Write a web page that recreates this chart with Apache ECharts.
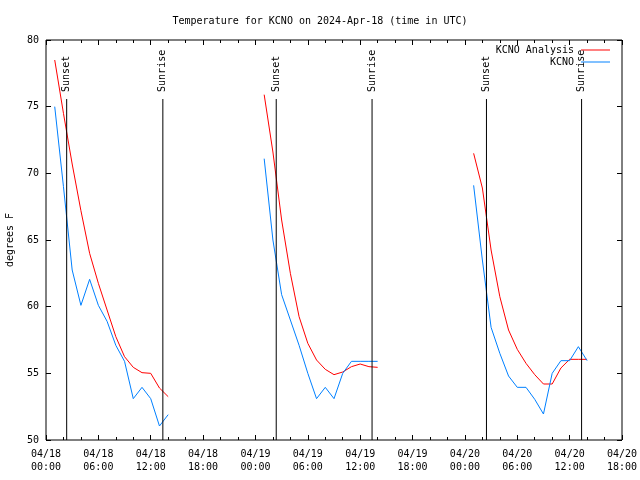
<!DOCTYPE html>
<html><head><meta charset="utf-8">
<script src="https://cdn.jsdelivr.net/npm/echarts@6/dist/echarts.min.js"></script>
<style>html,body{margin:0;padding:0;background:#fff}#c{width:640px;height:480px}</style>
</head><body><div id="c"></div>
<script>
const chartTitle = 'Temperature for KCNO on 2024-Apr-18 (time in UTC)';
const yAxisName = 'degrees F';
const startUTC = Date.UTC(2024, 3, 18, 0, 0);
const endUTC = Date.UTC(2024, 3, 20, 18, 0);
const HOUR = 3600000;

// observation hours (UTC) counted from 04/18 00:00
const hoursSeg1 = [1, 2, 3, 4, 5, 6, 7, 8, 9, 10, 11, 12, 13, 14];
const hoursSeg2 = [25, 26, 27, 28, 29, 30, 31, 32, 33, 34, 35, 36, 37, 38];
const hoursSeg3 = [49, 50, 51, 52, 53, 54, 55, 56, 57, 58, 59, 60, 61, 62];

const analysisSeg1 = [78.5, 74.5, 70.7, 67.2, 64.0, 61.75, 59.75, 57.75, 56.25, 55.45, 55.05, 55.0, 53.9, 53.25];
const analysisSeg2 = [75.9, 71.6, 66.5, 62.5, 59.25, 57.25, 56.0, 55.3, 54.9, 55.1, 55.5, 55.7, 55.5, 55.45];
const analysisSeg3 = [71.5, 68.9, 64.25, 60.75, 58.25, 56.8, 55.75, 54.9, 54.2, 54.2, 55.4, 56.05, 56.05, 56.05];

const obsSeg1 = [75.0, 69.0, 62.75, 60.1, 62.05, 60.1, 58.9, 57.1, 55.9, 53.1, 53.95, 53.1, 51.05, 51.9];
const obsSeg2 = [71.1, 65.0, 60.9, 59.0, 57.1, 55.0, 53.1, 53.95, 53.1, 55.0, 55.9, 55.9, 55.9, 55.9];
const obsSeg3 = [69.1, 63.5, 58.45, 56.5, 54.8, 53.95, 53.95, 53.05, 51.95, 55.0, 55.95, 55.95, 57.0, 55.95];

const sunsetHours = [2.37, 26.38, 50.47];
const sunriseHours = [13.39, 37.36, 61.37];
const sunLineTop = 75.575;

const yMin = 50, yMax = 80, yStep = 5;
const xStepHours = 6;

function toMs(h) { return startUTC + h * HOUR; }
function buildSeries(hourSegs, valSegs) {
  const out = [];
  hourSegs.forEach((hs, si) => {
    if (si > 0) {
      const prev = hourSegs[si - 1];
      out.push([toMs((prev[prev.length - 1] + hs[0]) / 2), null]);
    }
    hs.forEach((h, i) => out.push([toMs(h), valSegs[si][i]]));
  });
  return out;
}
const hourSegs = [hoursSeg1, hoursSeg2, hoursSeg3];
const analysisData = buildSeries(hourSegs, [analysisSeg1, analysisSeg2, analysisSeg3]);
const obsData = buildSeries(hourSegs, [obsSeg1, obsSeg2, obsSeg3]);

const FONT = 'DejaVu Sans Mono';
const pad = n => (n < 10 ? '0' : '') + n;
function fmtTime(v) {
  const d = new Date(v);
  return pad(d.getUTCMonth() + 1) + '/' + pad(d.getUTCDate()) + '\n' + pad(d.getUTCHours()) + ':' + pad(d.getUTCMinutes());
}

function sunSeries(h, text) {
  return {
    type: 'line', name: text, xAxisIndex: 0, yAxisIndex: 0,
    symbol: 'circle', symbolSize: 0.1, silent: true, z: 5,
    lineStyle: { color: '#000', width: 1 },
    itemStyle: { color: '#000' },
    data: [
      [toMs(h), yMin],
      { value: [toMs(h), sunLineTop], label: {
          show: true, formatter: text, position: 'top', distance: 7, rotate: 90,
          align: 'left', verticalAlign: 'middle', color: '#000',
          fontFamily: FONT, fontSize: 10 } }
    ]
  };
}

const axisFont = { fontFamily: FONT, fontSize: 10, color: '#000' };
const chart = echarts.init(document.getElementById('c'), null, { renderer: 'canvas' });
chart.setOption({
  animation: false,
  backgroundColor: '#fff',
  title: { text: chartTitle, left: 'center', top: 11,
    textStyle: { fontFamily: FONT, fontSize: 10, fontWeight: 'normal', color: '#000' } },
  legend: {
    data: ['KCNO Analysis', 'KCNO'], orient: 'vertical', right: 30, top: 45, padding: 0,
    align: 'right', itemWidth: 29, itemHeight: 1, itemGap: 2, icon: 'rect',
    textStyle: { fontFamily: FONT, fontSize: 10, color: '#000', padding: [0, 2, 0, 0] }
  },
  grid: { left: 46, right: 18, top: 40, bottom: 40, show: true, borderColor: '#000', borderWidth: 1,
    containLabel: false, outerBoundsMode: 'none' },
  xAxis: [
    { type: 'value', min: startUTC, max: endUTC, interval: xStepHours * HOUR, position: 'bottom',
      axisLine: { show: false }, splitLine: { show: false },
      axisTick: { show: true, inside: true, length: 5, lineStyle: { color: '#000' } },
      minorTick: { show: true, splitNumber: 3, length: 3, lineStyle: { color: '#000' } },
      axisLabel: Object.assign({ formatter: fmtTime, margin: 8, lineHeight: 13 }, axisFont) },
    { type: 'value', min: startUTC, max: endUTC, interval: xStepHours * HOUR, position: 'top',
      axisLine: { show: false }, splitLine: { show: false },
      axisTick: { show: true, inside: true, length: 5, lineStyle: { color: '#000' } },
      minorTick: { show: true, splitNumber: 3, length: 3, lineStyle: { color: '#000' } },
      axisLabel: { show: false } }
  ],
  yAxis: [
    { type: 'value', min: yMin, max: yMax, interval: yStep, position: 'left',
      name: yAxisName, nameLocation: 'middle', nameGap: 31, nameRotate: 90,
      nameTextStyle: axisFont,
      axisLine: { show: false }, splitLine: { show: false },
      axisTick: { show: true, inside: true, length: 5, lineStyle: { color: '#000' } },
      axisLabel: Object.assign({ margin: 7 }, axisFont) },
    { type: 'value', min: yMin, max: yMax, interval: yStep, position: 'right',
      axisLine: { show: false }, splitLine: { show: false },
      axisTick: { show: true, inside: true, length: 5, lineStyle: { color: '#000' } },
      axisLabel: { show: false } }
  ],
  series: [
    { type: 'line', name: 'KCNO Analysis', data: analysisData, showSymbol: false, symbol: 'none',
      connectNulls: false, lineStyle: { color: '#ff0000', width: 1 }, itemStyle: { color: '#ff0000' }, z: 3 },
    { type: 'line', name: 'KCNO', data: obsData, showSymbol: false, symbol: 'none',
      connectNulls: false, lineStyle: { color: '#0080ff', width: 1 }, itemStyle: { color: '#0080ff' }, z: 4 }
  ].concat(sunsetHours.map(h => sunSeries(h, 'Sunset')), sunriseHours.map(h => sunSeries(h, 'Sunrise')))
});
</script></body></html>
